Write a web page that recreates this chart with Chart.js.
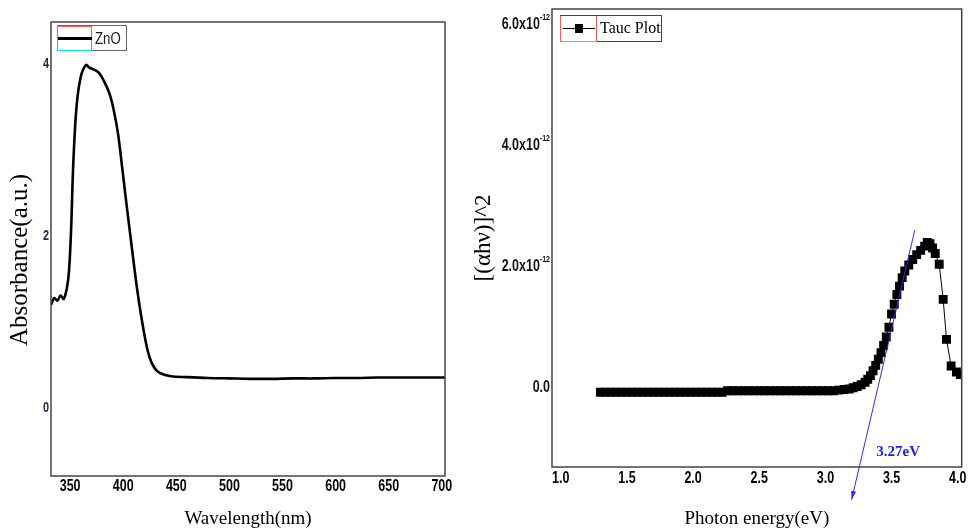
<!DOCTYPE html>
<html>
<head>
<meta charset="utf-8">
<script src="https://cdn.jsdelivr.net/npm/chart.js@4.4.1/dist/chart.umd.min.js"></script>
<style>
  html, body { margin: 0; padding: 0; background: #fff; }
  #wrap { position: relative; width: 968px; height: 530px; }
  .pane { position: absolute; top: 0; height: 530px; }
</style>
</head>
<body>
<div id="wrap">
  <div class="pane" style="left:0; width:460px;"><canvas id="abs-graph"></canvas></div>
  <div class="pane" style="left:450px; width:518px;"><canvas id="tauc-graph"></canvas></div>
</div>
<script>
// UV-Vis absorbance of ZnO
const wavelength = [332, 335, 338, 341, 344, 347, 349, 351, 353, 356, 360, 365, 368, 372, 377,
  382, 387, 391, 395, 399, 403, 407, 411, 415, 419, 423, 427, 432, 438, 445, 460, 480, 500,
  520, 540, 560, 580, 600, 620, 640, 660, 680, 700, 703];
const absorbance = [1.20, 1.28, 1.25, 1.31, 1.27, 1.40, 1.60, 2.10, 2.85, 3.50, 3.85, 3.99, 3.96,
  3.94, 3.90, 3.80, 3.66, 3.47, 3.20, 2.80, 2.38, 1.98, 1.58, 1.22, 0.92, 0.67, 0.52, 0.43,
  0.39, 0.37, 0.36, 0.35, 0.345, 0.34, 0.34, 0.345, 0.345, 0.35, 0.35, 0.355, 0.355, 0.355,
  0.355, 0.355];
const wlTicks = [350, 400, 450, 500, 550, 600, 650, 700];
const absTicks = [0, 2, 4];

// Tauc plot, (alpha h nu)^2 in units of 1e-12
const photonEnergy = [1.30, 1.34, 1.38, 1.42, 1.46, 1.50, 1.54, 1.58, 1.62, 1.66, 1.70, 1.74,
  1.78, 1.82, 1.86, 1.90, 1.94, 1.98, 2.02, 2.06, 2.10, 2.14, 2.18, 2.22, 2.26, 2.30, 2.34,
  2.38, 2.42, 2.46, 2.50, 2.54, 2.58, 2.62, 2.66, 2.70, 2.74, 2.78, 2.82, 2.86, 2.90, 2.94,
  2.98, 3.02, 3.06, 3.10, 3.14, 3.18, 3.21, 3.24, 3.27, 3.30, 3.32, 3.34, 3.36, 3.38, 3.40,
  3.42, 3.44, 3.46, 3.48, 3.50, 3.52, 3.54, 3.56, 3.58, 3.60, 3.63, 3.66, 3.69, 3.72, 3.75,
  3.77, 3.79, 3.81, 3.83, 3.86, 3.89, 3.915, 3.95, 3.99, 4.02];
const taucE12 = [-0.075, -0.075, -0.075, -0.075, -0.075, -0.075, -0.075, -0.075, -0.075, -0.075,
  -0.075, -0.075, -0.075, -0.075, -0.075, -0.075, -0.075, -0.075, -0.075, -0.075, -0.075,
  -0.075, -0.075, -0.075, -0.05, -0.05, -0.05, -0.05, -0.05, -0.05, -0.05, -0.05, -0.05,
  -0.05, -0.05, -0.05, -0.05, -0.05, -0.05, -0.05, -0.05, -0.05, -0.05, -0.05, -0.05, -0.04,
  -0.03, -0.02, 0.00, 0.02, 0.05, 0.09, 0.14, 0.20, 0.28, 0.37, 0.47, 0.58, 0.70, 0.84, 1.00,
  1.22, 1.38, 1.54, 1.68, 1.82, 1.93, 2.03, 2.12, 2.20, 2.27, 2.34, 2.40, 2.38, 2.31, 2.22,
  2.04, 1.46, 0.80, 0.36, 0.26, 0.22];
const evTicks = [1.0, 1.5, 2.0, 2.5, 3.0, 3.5, 4.0];
const taucTicks = [0, 2, 4, 6];

// band-gap extrapolation line and its label
const tangentEv = [3.198, 3.676];
const tangentE12 = [-1.85, 2.61];
const gapLabel = '3.27eV';
const gapLabelAt = [3.55, -1.06];

const sans = "'Liberation Sans', Arial, sans-serif";
const serif = "'Liberation Serif', 'Times New Roman', serif";
const SQUEEZE = 0.78;  // narrow look for tick labels

function fixTicks(values) {
  return function (scale) { scale.ticks = values.map(v => ({ value: v })); };
}

function squeezeText(ctx, text, x, y, align) {
  ctx.save();
  ctx.translate(x, y);
  ctx.scale(SQUEEZE, 1);
  ctx.textAlign = align;
  ctx.textBaseline = 'middle';
  ctx.fillText(text, 0, 0);
  ctx.restore();
}

function drawFrame(chart) {
  const a = chart.chartArea, ctx = chart.ctx;
  ctx.save();
  ctx.strokeStyle = '#444';
  ctx.lineWidth = 1.5;
  ctx.strokeRect(a.left, a.top, a.right - a.left, a.bottom - a.top);
  ctx.restore();
}

function drawXTicks(chart, fmt, dy) {
  const ctx = chart.ctx, xs = chart.scales.x;
  ctx.save();
  ctx.fillStyle = '#000';
  ctx.font = 'bold 16px ' + sans;
  xs.ticks.forEach(t => {
    squeezeText(ctx, fmt(t.value), xs.getPixelForValue(t.value), chart.chartArea.bottom + dy, 'center');
  });
  ctx.restore();
}

function drawSampleBox(ctx, x, y, w, h) {
  // coloured edges around the legend sample
  ctx.lineWidth = 1;
  ctx.strokeStyle = '#ff5a5a';
  ctx.beginPath();
  ctx.moveTo(x + 0.5, y); ctx.lineTo(x + 0.5, y + h);
  ctx.moveTo(x + w - 0.5, y); ctx.lineTo(x + w - 0.5, y + h);
  ctx.stroke();
  ctx.strokeStyle = '#00e5f0';
  ctx.beginPath();
  ctx.moveTo(x, y + h - 0.5); ctx.lineTo(x + w, y + h - 0.5);
  ctx.stroke();
}

const absDecor = {
  id: 'absDecor',
  afterDraw(chart) {
    drawFrame(chart);
    const ctx = chart.ctx, a = chart.chartArea, ys = chart.scales.y;
    drawXTicks(chart, v => String(v), 11);

    ctx.save();
    ctx.fillStyle = '#1c2a48';
    ctx.font = 'bold 14px ' + sans;
    ys.ticks.forEach(t => squeezeText(ctx, String(t.value), a.left - 2, ys.getPixelForValue(t.value), 'right'));

    // y axis title
    ctx.fillStyle = '#000';
    ctx.font = '25px ' + serif;
    ctx.translate(20, 260);
    ctx.rotate(-Math.PI / 2);
    ctx.textAlign = 'center';
    ctx.textBaseline = 'middle';
    ctx.fillText('Absorbance(a.u.)', 0, 0);
    ctx.restore();

    // legend
    const x = a.left + 6, y = a.top + 3;
    ctx.save();
    ctx.strokeStyle = '#666';
    ctx.lineWidth = 1;
    ctx.strokeRect(x + 0.5, y + 0.5, 69, 25);
    ctx.strokeStyle = '#ff5a5a';
    ctx.beginPath();
    ctx.moveTo(x, y + 1.5); ctx.lineTo(x + 35, y + 1.5);
    ctx.stroke();
    drawSampleBox(ctx, x, y + 1, 35, 25);
    ctx.strokeStyle = '#000';
    ctx.lineWidth = 3;
    ctx.beginPath();
    ctx.moveTo(x + 1, y + 13.5); ctx.lineTo(x + 35, y + 13.5);
    ctx.stroke();
    ctx.fillStyle = '#222';
    ctx.font = '17px ' + sans;
    squeezeText(ctx, 'ZnO', x + 38, y + 14, 'left');
    ctx.restore();
  }
};

const taucDecor = {
  id: 'taucDecor',
  afterDraw(chart) {
    drawFrame(chart);
    const ctx = chart.ctx, a = chart.chartArea;
    const xs = chart.scales.x, ys = chart.scales.y;
    drawXTicks(chart, v => v.toFixed(1), 12);

    // y tick labels with exponent
    ctx.save();
    ctx.fillStyle = '#111';
    const edge = a.left - 2;
    ys.ticks.forEach(t => {
      const py = ys.getPixelForValue(t.value);
      if (t.value === 0) {
        ctx.font = 'bold 16px ' + sans;
        squeezeText(ctx, '0.0', edge, py, 'right');
        return;
      }
      ctx.font = 'bold 9px ' + sans;
      const sup = '-12';
      const sw = ctx.measureText(sup).width * SQUEEZE;
      squeezeText(ctx, sup, edge, py - 7, 'right');
      ctx.font = 'bold 16px ' + sans;
      squeezeText(ctx, t.value.toFixed(1) + 'x10', edge - sw, py, 'right');
    });
    ctx.restore();

    // legend
    const x = a.left + 8, y = a.top + 6;
    ctx.save();
    ctx.strokeStyle = '#444';
    ctx.lineWidth = 1;
    ctx.strokeRect(x + 0.5, y + 0.5, 101, 26);
    drawSampleBox(ctx, x, y + 1, 37, 26);
    ctx.strokeStyle = '#000';
    ctx.beginPath();
    ctx.moveTo(x + 3, y + 13.5); ctx.lineTo(x + 35, y + 13.5);
    ctx.stroke();
    ctx.fillStyle = '#000';
    ctx.fillRect(x + 15, y + 9, 8, 9);
    ctx.font = '16px ' + serif;
    ctx.textBaseline = 'middle';
    ctx.fillText('Tauc Plot', x + 40, y + 14);
    ctx.restore();

    // extrapolated band-gap line with arrow head
    const x0 = xs.getPixelForValue(tangentEv[1]), y0 = ys.getPixelForValue(tangentE12[1]);
    const x1 = xs.getPixelForValue(tangentEv[0]), y1 = ys.getPixelForValue(tangentE12[0]);
    ctx.save();
    ctx.strokeStyle = '#2b2bff';
    ctx.fillStyle = '#2b2bff';
    ctx.lineWidth = 1;
    ctx.beginPath();
    ctx.moveTo(x0, y0); ctx.lineTo(x1, y1);
    ctx.stroke();
    const ang = Math.atan2(y1 - y0, x1 - x0);
    ctx.beginPath();
    ctx.moveTo(x1, y1);
    ctx.lineTo(x1 - 9 * Math.cos(ang - 0.28), y1 - 9 * Math.sin(ang - 0.28));
    ctx.lineTo(x1 - 9 * Math.cos(ang + 0.28), y1 - 9 * Math.sin(ang + 0.28));
    ctx.closePath();
    ctx.fill();
    ctx.font = 'bold 15px ' + serif;
    ctx.fillStyle = '#2020ee';
    ctx.textAlign = 'center';
    ctx.textBaseline = 'middle';
    ctx.fillText(gapLabel, xs.getPixelForValue(gapLabelAt[0]), ys.getPixelForValue(gapLabelAt[1]));
    ctx.restore();
  }
};

new Chart(document.getElementById('abs-graph').getContext('2d'), {
  type: 'line',
  data: {
    datasets: [{
      label: 'ZnO',
      data: wavelength.map((w, i) => ({ x: w, y: absorbance[i] })),
      borderColor: '#000',
      borderWidth: 2.6,
      pointRadius: 0,
      tension: 0.35,
      fill: false
    }]
  },
  options: {
    responsive: true,
    maintainAspectRatio: false,
    animation: false,
    layout: { padding: { top: 22, right: 15, left: 0, bottom: 0 } },
    plugins: { legend: { display: false }, tooltip: { enabled: false } },
    scales: {
      x: {
        type: 'linear', min: 332, max: 703,
        afterBuildTicks: fixTicks(wlTicks),
        afterFit: s => { s.height = 54; },
        grid: { display: false },
        border: { display: false },
        ticks: { display: false },
        title: { display: true, text: 'Wavelength(nm)', font: { family: serif, size: 19 },
          color: '#000', padding: 0 }
      },
      y: {
        type: 'linear', min: -0.79, max: 4.49,
        afterBuildTicks: fixTicks(absTicks),
        afterFit: s => { s.width = 51; },
        grid: { display: false },
        border: { display: false },
        ticks: { display: false },
        title: { display: false }
      }
    }
  },
  plugins: [absDecor]
});

new Chart(document.getElementById('tauc-graph').getContext('2d'), {
  type: 'line',
  data: {
    datasets: [{
      label: 'Tauc Plot',
      data: photonEnergy.map((e, i) => ({ x: e, y: taucE12[i] })),
      borderColor: '#000',
      borderWidth: 1,
      pointStyle: 'rect',
      pointRadius: 6.3,
      pointBorderWidth: 0,
      pointBackgroundColor: '#000',
      tension: 0,
      fill: false
    }]
  },
  options: {
    responsive: true,
    maintainAspectRatio: false,
    animation: false,
    layout: { padding: { top: 9, right: 6, left: 0, bottom: 0 } },
    plugins: { legend: { display: false }, tooltip: { enabled: false } },
    scales: {
      x: {
        type: 'linear', min: 0.934, max: 4.03,
        afterBuildTicks: fixTicks(evTicks),
        afterFit: s => { s.height = 63; },
        grid: { display: false },
        border: { display: false },
        ticks: { display: false },
        title: { display: true, text: 'Photon energy(eV)', font: { family: serif, size: 19 },
          color: '#000', padding: 0 }
      },
      y: {
        type: 'linear', min: -1.31, max: 6.26,
        afterBuildTicks: fixTicks(taucTicks),
        afterFit: s => { s.width = 102; },
        grid: { display: false },
        border: { display: false },
        ticks: { display: false },
        title: { display: true, text: '[(\u03b1h\u03bd)]^2', font: { family: serif, size: 23 },
          color: '#000', padding: { top: 20, bottom: 0 } }
      }
    }
  },
  plugins: [taucDecor]
});
</script>
</body>
</html>
